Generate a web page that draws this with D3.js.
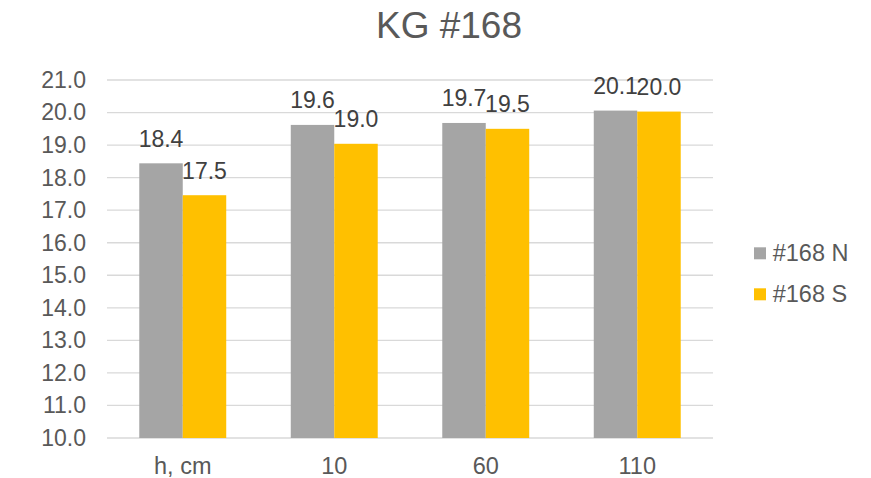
<!DOCTYPE html>
<html>
<head>
<meta charset="utf-8">
<script src="https://cdn.jsdelivr.net/npm/d3@7"></script>
<style>
  body { margin: 0; background: #fff; }
  svg { display: block; font-family: "Liberation Sans", Arial, sans-serif; }
</style>
</head>
<body>
<svg id="chart" width="871" height="478"></svg>
<script>
const categories = ["h, cm", "10", "60", "110"];
const seriesNames = ["#168 N", "#168 S"];
const valuesN = [18.44, 19.62, 19.68, 20.06];
const valuesS = [17.46, 19.04, 19.50, 20.03];
const yTicks = [10, 11, 12, 13, 14, 15, 16, 17, 18, 19, 20, 21];
const colors = ["#A5A5A5", "#FFC000"];
const title = "KG #168";

const data = categories.map((c, i) => ({ cat: c, vals: [valuesN[i], valuesS[i]] }));

const svg = d3.select("#chart");
const plotLeft = 107, plotRight = 713, plotTop = 80, plotBottom = 438;
const FONT = '"Liberation Sans", Arial, sans-serif';

const y = d3.scaleLinear().domain([10, 21]).range([plotBottom, plotTop]);
const x = d3.scaleBand().domain(categories).range([plotLeft, plotRight])
  .paddingInner(0.426).paddingOuter(0.213);
const xs = d3.scaleBand().domain([0, 1]).range([0, x.bandwidth()]).padding(0);

// title
svg.append("text").attr("x", 449).attr("y", 38).attr("text-anchor", "middle")
  .attr("font-size", 37).attr("fill", "#595959").text(title);

// gridlines
svg.append("g").selectAll("line").data(yTicks).join("line")
  .attr("x1", plotLeft).attr("x2", plotRight)
  .attr("y1", d => y(d)).attr("y2", d => y(d))
  .attr("stroke", "#D9D9D9").attr("stroke-width", 1.3);

// y axis labels
const yAxis = d3.axisLeft(y).tickValues(yTicks).tickFormat(d3.format(".1f")).tickSize(0).tickPadding(21);
const gy = svg.append("g").attr("transform", `translate(${plotLeft},0)`).call(yAxis);
gy.select(".domain").remove();
gy.selectAll("text").attr("font-size", 23).attr("fill", "#595959").attr("font-family", FONT);

// bars
const groups = svg.append("g").selectAll("g").data(data).join("g")
  .attr("transform", d => `translate(${x(d.cat)},0)`);
groups.selectAll("rect").data(d => d.vals.map((v, i) => ({ v, i }))).join("rect")
  .attr("x", d => xs(d.i)).attr("width", xs.bandwidth())
  .attr("y", d => y(d.v)).attr("height", d => y(10) - y(d.v))
  .attr("fill", d => colors[d.i]);
groups.selectAll("text").data(d => d.vals.map((v, i) => ({ v, i }))).join("text")
  .attr("x", d => xs(d.i) + xs.bandwidth() / 2)
  .attr("y", d => y(d.v) - 16.6)
  .attr("text-anchor", "middle").attr("font-size", 23).attr("fill", "#404040")
  .text(d => d3.format(".1f")(d.v));

// x axis
const xAxis = d3.axisBottom(x).tickSize(0).tickPadding(19);
const gx = svg.append("g").attr("transform", `translate(0,${plotBottom})`).call(xAxis);
gx.select(".domain").remove();
gx.selectAll("text").attr("font-size", 23.5).attr("fill", "#595959").attr("font-family", FONT);

// legend
const lg = svg.append("g").selectAll("g").data(seriesNames).join("g")
  .attr("transform", (d, i) => `translate(754,${247.3 + i * 41})`);
lg.append("rect").attr("width", 12).attr("height", 12).attr("fill", (d, i) => colors[i]);
lg.append("text").attr("x", 18.7).attr("y", 13.4).attr("font-size", 23.5).attr("fill", "#595959").text(d => d);
</script>
</body>
</html>
